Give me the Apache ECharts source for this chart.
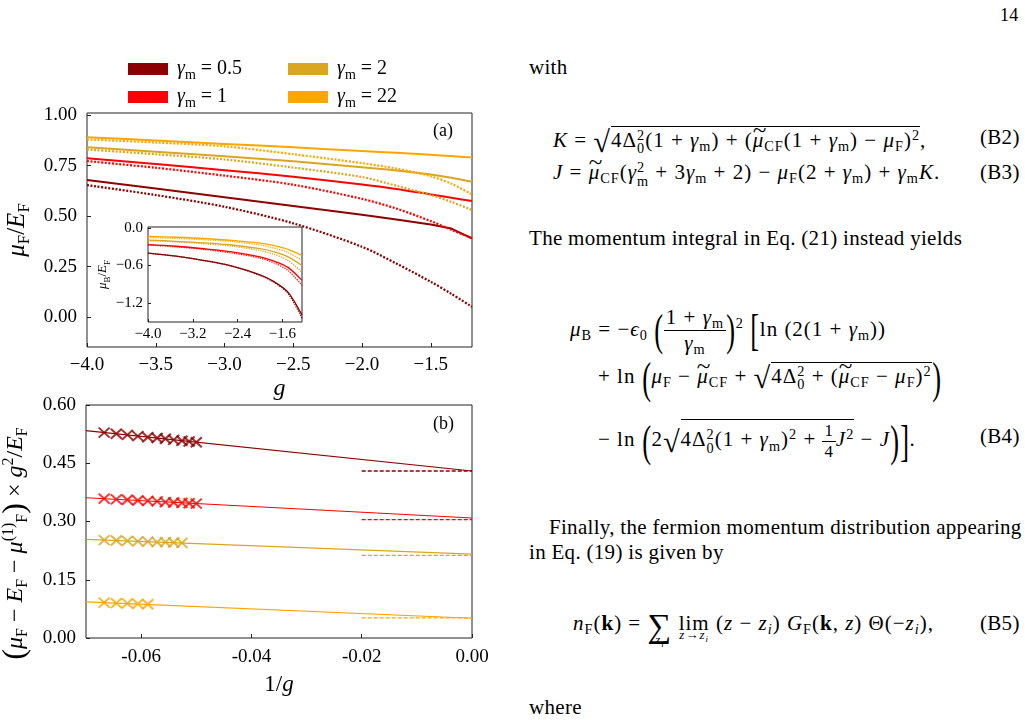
<!DOCTYPE html>
<html>
<head>
<meta charset="utf-8">
<script src="https://cdn.jsdelivr.net/npm/echarts@6/dist/echarts.min.js"></script>
<style>
html, body { margin: 0; padding: 0; background: #fff; }
#page { position: relative; width: 1025px; height: 720px; overflow: hidden; }
#chart { position: absolute; left: 0; top: 0; width: 500px; height: 720px; }
.t { position: absolute; font-family: 'Liberation Serif', serif; font-size: 21px; line-height: 22px; white-space: nowrap; color: #000; letter-spacing: 0.3px; }
.eq { letter-spacing: 1px; }
.t i { font-style: italic; }
.t sub { font-size: 68%; vertical-align: -0.3em; line-height: 0; }
.t sup { font-size: 68%; vertical-align: 0.5em; line-height: 0; }
.ss { display: inline-block; vertical-align: -0.45em; font-size: 68%; line-height: 0.95em; }
.ss span { display: block; }
.rt { font-size: 1.45em; line-height: 0; vertical-align: -0.18em; }
.ov { display: inline-block; border-top: 1px solid #000; line-height: 1.15em; padding-top: 1px; }
.fr { display: inline-block; vertical-align: middle; text-align: center; line-height: 1.2em; }
.fr span { display: block; padding: 0 2px; }
.fr span:first-child { border-bottom: 1px solid #000; }
.bg { display: inline-block; font-size: 2.1em; line-height: 0; vertical-align: -0.22em; transform: scale(0.6, 1); margin: 0 -3px; }
.tl { position: relative; display: inline-block; }
.tl::after { content: '~'; position: absolute; left: 0.05em; top: -0.5em; font-size: 1em; transform: scaleX(1.2); }
.op { position: relative; display: inline-block; }
.op .lo { position: absolute; left: 50%; transform: translateX(-50%); top: 1.2em; font-size: 62%; white-space: nowrap; line-height: 1; }
.op .lo2 { top: 1.6em; }
.big { font-size: 1.6em; line-height: 0; vertical-align: -0.2em; }
</style>
</head>
<body>
<div id="page">
<div id="chart"></div>

<div class="t" style="left:1000px;top:4px;font-size:18px;">14</div>

<div class="t" style="left:529px;top:56px;">with</div>

<div class="t eq" style="left:553px;top:126px;"><i>K</i> = <span class="rt">√</span><span class="ov">4Δ<span class="ss"><span>2</span><span>0</span></span>(1 + <i>γ</i><sub>m</sub>) + (<span class="tl"><i>μ</i></span><sub>CF</sub>(1 + <i>γ</i><sub>m</sub>) − <i>μ</i><sub>F</sub>)<sup>2</sup></span>,</div>
<div class="t" style="left:980px;top:126px;">(B2)</div>

<div class="t eq" style="left:553px;top:161px;"><i>J</i> = <span class="tl"><i>μ</i></span><sub>CF</sub>(<i>γ</i><span class="ss"><span>2</span><span>m</span></span> + 3<i>γ</i><sub>m</sub> + 2) − <i>μ</i><sub>F</sub>(2 + <i>γ</i><sub>m</sub>) + <i>γ</i><sub>m</sub><i>K</i>.</div>
<div class="t" style="left:980px;top:161px;">(B3)</div>

<div class="t" style="left:529px;top:227px;">The momentum integral in Eq. (21) instead yields</div>

<div class="t eq" style="left:570px;top:305px;"><i>μ</i><sub>B</sub> = −<i>ϵ</i><sub>0</sub> <span class="bg">(</span><span class="fr"><span>1 + <i>γ</i><sub>m</sub></span><span><i>γ</i><sub>m</sub></span></span><span class="bg">)</span><sup>2</sup> <span class="bg">[</span>ln (2(1 + <i>γ</i><sub>m</sub>))</div>

<div class="t eq" style="left:598px;top:362px;">+ ln <span class="bg">(</span><i>μ</i><sub>F</sub> − <span class="tl"><i>μ</i></span><sub>CF</sub> + <span class="rt">√</span><span class="ov">4Δ<span class="ss"><span>2</span><span>0</span></span> + (<span class="tl"><i>μ</i></span><sub>CF</sub> − <i>μ</i><sub>F</sub>)<sup>2</sup></span><span class="bg">)</span></div>

<div class="t eq" style="left:598px;top:419px;">− ln <span class="bg">(</span>2<span class="rt">√</span><span class="ov">4Δ<span class="ss"><span>2</span><span>0</span></span>(1 + <i>γ</i><sub>m</sub>)<sup>2</sup> + <span class="fr" style="font-size:80%"><span>1</span><span>4</span></span><i>J</i><sup>2</sup></span> − <i>J</i><span class="bg">)</span><span class="bg">]</span>.</div>
<div class="t" style="left:980px;top:425px;">(B4)</div>

<div class="t" style="left:549px;top:516px;">Finally, the fermion momentum distribution appearing</div>
<div class="t" style="left:529px;top:541px;">in Eq. (19) is given by</div>

<div class="t eq" style="left:573px;top:612px;"><i>n</i><sub>F</sub>(<b>k</b>) = <span class="op"><span class="big">∑</span><span class="lo lo2"><i>z<sub>i</sub></i></span></span> <span class="op"><span>lim</span><span class="lo"><i>z</i>→<i>z<sub>i</sub></i></span></span> (<i>z</i> − <i>z<sub>i</sub></i>) <i>G</i><sub>F</sub>(<b>k</b>, <i>z</i>) Θ(−<i>z<sub>i</sub></i>),</div>
<div class="t" style="left:980px;top:612px;">(B5)</div>

<div class="t" style="left:529px;top:696px;">where</div>
</div>

<script>
// panel (a): mu_F / E_F against g
const gA = [-4.0, -3.5, -3.0, -2.5, -2.0, -1.75, -1.5, -1.35, -1.2];
const solidA05 = [0.679, 0.636, 0.593, 0.550, 0.506, 0.483, 0.458, 0.438, 0.390];
const dotA05 = [0.653, 0.604, 0.546, 0.464, 0.348, 0.265, 0.175, 0.115, 0.051];
const solidA1 = [0.786, 0.758, 0.727, 0.695, 0.656, 0.634, 0.607, 0.591, 0.574];
const dotA1 = [0.772, 0.739, 0.700, 0.655, 0.585, 0.537, 0.475, 0.432, 0.390];
const solidA2 = [0.840, 0.818, 0.796, 0.771, 0.742, 0.726, 0.706, 0.690, 0.670];
const dotA2 = [0.829, 0.806, 0.780, 0.740, 0.693, 0.650, 0.604, 0.570, 0.530];
const solidA22 = [0.890, 0.874, 0.857, 0.840, 0.822, 0.813, 0.803, 0.797, 0.790];
const dotA22 = [0.879, 0.864, 0.845, 0.806, 0.762, 0.735, 0.697, 0.660, 0.607];

// inset: mu_B / E_F against g
const gIn = [-4.0, -3.5, -3.0, -2.5, -2.0, -1.75, -1.5, -1.25];
const solidB05 = [-0.40, -0.45, -0.52, -0.61, -0.75, -0.86, -1.03, -1.40];
const dotB05 = [-0.40, -0.45, -0.52, -0.61, -0.76, -0.87, -1.05, -1.45];
const solidB1 = [-0.265, -0.29, -0.33, -0.38, -0.46, -0.53, -0.63, -0.84];
const dotB1 = [-0.27, -0.30, -0.34, -0.40, -0.48, -0.56, -0.68, -0.92];
const solidB2 = [-0.19, -0.21, -0.235, -0.27, -0.33, -0.38, -0.46, -0.60];
const dotB2 = [-0.20, -0.22, -0.25, -0.29, -0.36, -0.42, -0.52, -0.71];
const solidB22 = [-0.13, -0.145, -0.165, -0.195, -0.24, -0.28, -0.34, -0.44];
const dotB22 = [-0.15, -0.165, -0.185, -0.215, -0.27, -0.32, -0.39, -0.52];

// panel (b): crosses against 1/g, linear fits and limits
const invG = [-0.0667, -0.0645, -0.0625, -0.0606, -0.0588, -0.0571, -0.0556, -0.0541, -0.0526, -0.0513, -0.0500];
const cross05 = [0.529, 0.526, 0.523, 0.520, 0.517, 0.515, 0.513, 0.510, 0.508, 0.506, 0.504];
const cross1 = [0.359, 0.357, 0.356, 0.354, 0.353, 0.352, 0.350, 0.349, 0.348, 0.347, 0.346];
const cross2 = [0.252, 0.251, 0.250, 0.249, 0.248, 0.247, 0.247, 0.246, 0.245];
const cross22 = [0.091, 0.090, 0.089, 0.088, 0.087];
const fitX = [-0.07, 0.0];
const fit05 = [0.534, 0.430];
const fit1 = [0.361, 0.309];
const fit2 = [0.254, 0.216];
const fit22 = [0.093, 0.051];
const limX = [-0.02, 0.0];
const lim05 = 0.430, lim1 = 0.305, lim2 = 0.213, lim22 = 0.052;

const yTicksA = [0, 0.25, 0.5, 0.75, 1.0];
const xTicksA = [-4.0, -3.5, -3.0, -2.5, -2.0, -1.5];
const yTicksIn = [0, -0.6, -1.2];
const xTicksIn = [-4.0, -3.2, -2.4, -1.6];
const xTicksB = [-0.06, -0.04, -0.02, 0.0];

const gammas = ['0.5', '1', '2', '22'];
const colors = ['#8B0000', '#FF0000', '#DAA520', '#FFA500'];

const serif = 'Liberation Serif';
const zip = (xs, ys) => xs.map((x, i) => [x, ys[i]]);
const minus = (v, d) => (v < 0 ? '\u2212' : '') + Math.abs(v).toFixed(d);

const mathRich = (size) => ({
  i: { fontFamily: serif, fontStyle: 'italic', fontSize: size, lineHeight: size + 6, color: '#000' },
  n: { fontFamily: serif, fontSize: size, lineHeight: size + 6, color: '#000' },
  s: { fontFamily: serif, fontSize: Math.round(size * 0.68), lineHeight: Math.round(size * 0.68), verticalAlign: 'bottom', color: '#000' },
  p: { fontFamily: serif, fontSize: Math.round(size * 0.68), lineHeight: Math.round(size * 0.68), verticalAlign: 'top', color: '#000' },
  b: { fontFamily: serif, fontSize: size * 1.35, lineHeight: size + 6, color: '#000' }
});

const chart = echarts.init(document.getElementById('chart'));

const solidA = [solidA05, solidA1, solidA2, solidA22];
const dotA = [dotA05, dotA1, dotA2, dotA22];
const solidB = [solidB05, solidB1, solidB2, solidB22];
const dotB = [dotB05, dotB1, dotB2, dotB22];
const crosses = [cross05, cross1, cross2, cross22];
const fits = [fit05, fit1, fit2, fit22];
const lims = [lim05, lim1, lim2, lim22];

let series = [];
gammas.forEach((gm, k) => {
  const c = colors[k];
  series.push({
    name: 'γm=' + gm, type: 'line', xAxisIndex: 0, yAxisIndex: 0,
    data: zip(gA, solidA[k]), showSymbol: false, smooth: k === 0 ? false : 0.3,
    color: c, lineStyle: { color: c, width: 2 }, z: 2
  });
  series.push({
    name: 'dot' + gm, type: 'line', xAxisIndex: 0, yAxisIndex: 0,
    data: zip(gA, dotA[k]), showSymbol: false, smooth: 0.3,
    color: c, lineStyle: { color: c, width: 2.2, type: [2, 1.6] }, z: 2
  });
  series.push({
    name: 'inS' + gm, type: 'line', xAxisIndex: 1, yAxisIndex: 1,
    data: zip(gIn, solidB[k]), showSymbol: false, smooth: 0.3,
    color: c, lineStyle: { color: c, width: 1.3 }, z: 12
  });
  series.push({
    name: 'inD' + gm, type: 'line', xAxisIndex: 1, yAxisIndex: 1,
    data: zip(gIn, dotB[k]), showSymbol: false, smooth: 0.3,
    color: c, lineStyle: { color: c, width: 1.3, type: [1.2, 1.2] }, z: 12
  });
  series.push({
    name: 'fit' + gm, type: 'line', xAxisIndex: 2, yAxisIndex: 2,
    data: zip(fitX, fits[k]), showSymbol: false,
    color: c, lineStyle: { color: c, width: 1.1 }
  });
  series.push({
    name: 'lim' + gm, type: 'line', xAxisIndex: 2, yAxisIndex: 2,
    data: zip(limX, [lims[k], lims[k]]), showSymbol: false,
    color: c, lineStyle: { color: c, width: 1.3, type: [4, 2] }
  });
  series.push({
    name: 'x' + gm, type: 'scatter', xAxisIndex: 2, yAxisIndex: 2,
    data: zip(invG.slice(0, crosses[k].length), crosses[k]),
    symbol: 'path://M0 0L10 10M10 0L0 10', symbolSize: [11, 10],
    itemStyle: { color: 'rgba(0,0,0,0)', borderColor: c, borderWidth: 2 }, z: 4
  });
});

const legendPos = [[128, 59], [128, 87], [288, 59], [288, 87]];
const legends = gammas.map((gm, k) => ({
  data: [{ name: 'γm=' + gm, icon: 'rect' }],
  left: legendPos[k][0], top: legendPos[k][1], padding: 0,
  itemWidth: 40, itemHeight: 12, selectedMode: false,
  formatter: () => '{i|γ}{s|m}{n| = ' + gm + '}',
  textStyle: { padding: [0, 0, 0, 4], rich: mathRich(20) }
}));

const tickStyle = { show: true, inside: true, length: 4, lineStyle: { color: '#222' } };
const axisBase = (extra) => Object.assign({
  type: 'value',
  splitLine: { show: false },
  axisLine: { show: false, onZero: false }
}, extra);

const gridBase = { show: true, borderColor: '#222', borderWidth: 1, outerBoundsMode: 'none', containLabel: false };

const option = {
  animation: false,
  legend: legends,
  grid: [
    Object.assign({}, gridBase, { left: 87, top: 113, width: 385, height: 234, backgroundColor: 'rgba(0,0,0,0)' }),
    Object.assign({}, gridBase, { left: 148, top: 227, width: 154, height: 95, backgroundColor: '#fff', z: 10 }),
    Object.assign({}, gridBase, { left: 86, top: 405, width: 386, height: 233, backgroundColor: 'rgba(0,0,0,0)' })
  ],
  xAxis: [
    axisBase({
      gridIndex: 0, min: -4, max: -1.2,
      axisTick: Object.assign({}, tickStyle, { customValues: xTicksA }),
      axisLabel: { customValues: xTicksA, formatter: v => minus(v, 1), fontFamily: serif, fontSize: 19, color: '#000', margin: 9 },
      name: 'g', nameLocation: 'middle', nameGap: 30,
      nameTextStyle: { fontFamily: serif, fontStyle: 'italic', fontSize: 24, color: '#000' }
    }),
    axisBase({
      gridIndex: 1, min: -4, max: -1.25, z: 11,
      axisTick: Object.assign({}, tickStyle, { customValues: xTicksIn, length: 3 }),
      axisLabel: { customValues: xTicksIn, formatter: v => minus(v, 1), fontFamily: serif, fontSize: 15, color: '#000', margin: 5 }
    }),
    axisBase({
      gridIndex: 2, min: -0.07, max: 0,
      axisTick: Object.assign({}, tickStyle, { customValues: xTicksB }),
      axisLabel: { customValues: xTicksB, formatter: v => (v < 0 ? '-' : '') + Math.abs(v).toFixed(2), fontFamily: serif, fontSize: 19, color: '#000', margin: 10 },
      name: '{n|1/}{i|g}', nameLocation: 'middle', nameGap: 32,
      nameTextStyle: { rich: mathRich(23) }
    })
  ],
  yAxis: [
    axisBase({
      gridIndex: 0, min: -0.148, max: 1.01,
      axisTick: Object.assign({}, tickStyle, { customValues: yTicksA }),
      axisLabel: { customValues: yTicksA, formatter: v => v.toFixed(2), fontFamily: serif, fontSize: 19, color: '#000', margin: 10 },
      name: '{i|μ}{s|F}{n|/}{i|E}{s|F}', nameLocation: 'middle', nameGap: 45, nameRotate: 90,
      nameTextStyle: { rich: mathRich(25) }
    }),
    axisBase({
      gridIndex: 1, min: -1.51, max: 0.02, z: 11,
      axisTick: Object.assign({}, tickStyle, { customValues: yTicksIn, length: 3 }),
      axisLabel: { customValues: yTicksIn, formatter: v => minus(v, 1), fontFamily: serif, fontSize: 15, color: '#000', margin: 5 },
      name: '{i|μ}{s|B}{n|/}{i|E}{s|F}', nameLocation: 'middle', nameGap: 34, nameRotate: 90,
      nameTextStyle: { rich: mathRich(13) }
    }),
    axisBase({
      gridIndex: 2, min: 0, max: 0.6, interval: 0.15,
      axisTick: tickStyle,
      axisLabel: { formatter: v => v.toFixed(2), fontFamily: serif, fontSize: 19, color: '#000', margin: 10 },
      name: '{b|(}{i|μ}{s|F}{n| − }{i|E}{s|F}{n| − }{i|μ}{p|(1)}{s|F}{b|)}{n| × }{i|g}{p|2}{n|/}{i|E}{s|F}',
      nameLocation: 'middle', nameGap: 51, nameRotate: 90,
      nameTextStyle: { rich: mathRich(24), padding: [0, 44, 0, 0] }
    })
  ],
  graphic: [
    { type: 'text', left: 433, top: 122, style: { text: '(a)', font: '18px "Liberation Serif"', fill: '#000' } },
    { type: 'text', left: 433, top: 415, style: { text: '(b)', font: '18px "Liberation Serif"', fill: '#000' } }
  ],
  series: series
};

chart.setOption(option);
</script>
</body>
</html>
